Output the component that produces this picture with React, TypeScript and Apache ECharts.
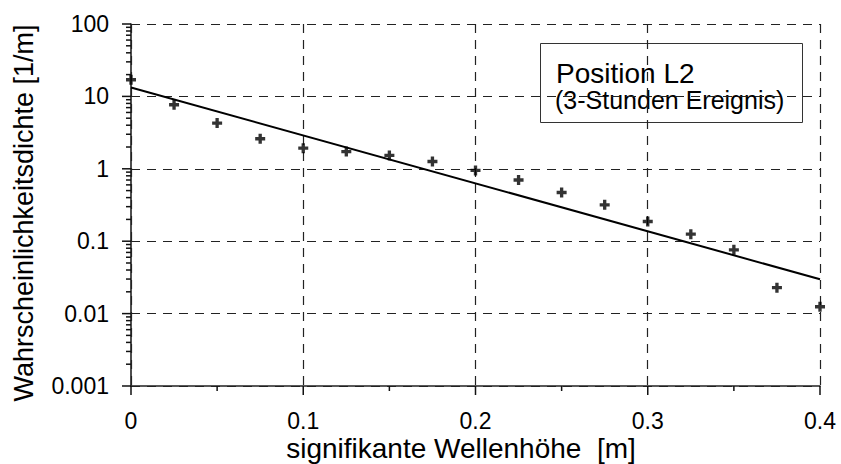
import React, { useEffect, useRef } from "react";
import * as echarts from "echarts";

const waveHeights = [0, 0.025, 0.05, 0.075, 0.1, 0.125, 0.15, 0.175, 0.2, 0.225, 0.25, 0.275, 0.3, 0.325, 0.35, 0.375, 0.4];
const densities = [17.0, 7.67, 4.28, 2.6, 1.93, 1.73, 1.53, 1.26, 0.95, 0.7, 0.47, 0.318, 0.187, 0.125, 0.076, 0.0228, 0.01245];
const fitX = [0, 0.4];
const fitY = [13.3, 0.0298];
const yMajorTicks = [0.001, 0.01, 0.1, 1, 10, 100];
const yMinorTicks = [-3, -2, -1, 0, 1].flatMap((e) => [2, 3, 4, 5, 6, 7, 8, 9].map((k) => k * Math.pow(10, e)));
const xMajorTicks = [0, 0.1, 0.2, 0.3, 0.4];
const xMinorTicks = [0.05, 0.15, 0.25, 0.35];

const xAxisTitle = "signifikante Wellenhöhe  [m]";
const yAxisTitle = "Wahrscheinlichkeitsdichte [1/m]";
const boxLine1 = "Position L2";
const boxLine2 = "(3-Stunden Ereignis)";

const FONT = "'Liberation Sans', Arial, Helvetica, sans-serif";
const PLUS = "path://M3,0H6V3H9V6H6V9H3V6H0V3H3Z";

export default function App() {
  const ref = useRef<HTMLDivElement>(null);
  useEffect(() => {
    if (!ref.current) return;
    const chart = echarts.init(ref.current, undefined, { renderer: "svg" });
    const staticGraphics: any[] = [
      {
        type: "group",
        id: "box",
        z: 100,
        children: [
          {
            type: "rect",
            shape: { x: 540.5, y: 43.5, width: 262, height: 79 },
            style: { fill: "#fff", stroke: "#333", lineWidth: 1 },
          },
          {
            type: "text",
            x: 556,
            y: 73,
            style: { text: boxLine1, fill: "#000", font: `28px ${FONT}`, align: "left", verticalAlign: "middle" },
          },
          {
            type: "text",
            x: 555,
            y: 100,
            style: { text: boxLine2, fill: "#000", font: `25px ${FONT}`, align: "left", verticalAlign: "middle" },
          },
        ],
      },
      {
        type: "text",
        id: "xtitle",
        x: 461,
        y: 448,
        style: { text: xAxisTitle, fill: "#000", font: `28px ${FONT}`, align: "center", verticalAlign: "middle" },
      },
      {
        type: "text",
        id: "ytitle",
        x: 24,
        y: 213,
        rotation: Math.PI / 2,
        style: { text: yAxisTitle, fill: "#000", font: `27px ${FONT}`, align: "center", verticalAlign: "middle" },
      },
    ];
    chart.setOption({
      animation: false,
      backgroundColor: "#ffffff",
      grid: { left: 131, right: 21, top: 24, bottom: 78, containLabel: false },
      xAxis: {
        type: "value",
        min: 0,
        max: 0.4,
        interval: 0.1,
        axisLine: { show: true, lineStyle: { color: "#222", width: 1.6 } },
        axisTick: { show: false },
        splitLine: { show: true, lineStyle: { color: "#222", type: [9, 7], width: 1.2 } },
        axisLabel: { color: "#000", fontFamily: FONT, fontSize: 23, margin: 23 },
      },
      yAxis: {
        type: "log",
        logBase: 10,
        min: 0.001,
        max: 100,
        axisLine: { show: true, lineStyle: { color: "#222", width: 1.6 } },
        axisTick: { show: false },
        splitLine: { show: true, lineStyle: { color: "#222", type: [9, 7], width: 1.2 } },
        axisLabel: {
          color: "#000",
          fontFamily: FONT,
          fontSize: 23,
          margin: 22,
          formatter: (v: number) => String(parseFloat(v.toPrecision(6))),
        },
      },
      series: [
        {
          type: "line",
          data: fitX.map((x, i) => [x, fitY[i]]),
          showSymbol: false,
          symbol: "none",
          lineStyle: { color: "#000", width: 2 },
          z: 3,
        },
        {
          type: "scatter",
          data: waveHeights.map((x, i) => [x, densities[i]]),
          symbol: PLUS,
          symbolSize: 10,
          itemStyle: { color: "#000" },
          clip: false,
          z: 4,
        },
      ],
      graphic: staticGraphics,
    });

    const tick = (id: string, x: number, y: number, dx: number, dy: number) => {
      const p = chart.convertToPixel({ gridIndex: 0 }, [x, y]) as number[];
      return {
        type: "line",
        id,
        z: 50,
        shape: { x1: p[0], y1: p[1], x2: p[0] + dx, y2: p[1] + dy },
        style: { stroke: "#111", lineWidth: 1.5 },
      };
    };
    const ticks: any[] = [
      ...yMajorTicks.map((v, i) => tick("ymaj" + i, 0, v, -9, 0)),
      ...yMinorTicks.map((v, i) => tick("ymin" + i, 0, v, -5, 0)),
      ...xMajorTicks.map((v, i) => tick("xmaj" + i, v, 0.001, 0, 9)),
      ...xMinorTicks.map((v, i) => tick("xmin" + i, v, 0.001, 0, 5)),
    ];
    chart.setOption({ graphic: [...staticGraphics, ...ticks] });
    return () => chart.dispose();
  }, []);
  return <div ref={ref} style={{ width: 841, height: 464, position: "absolute", left: 0, top: 0 }} />;
}
